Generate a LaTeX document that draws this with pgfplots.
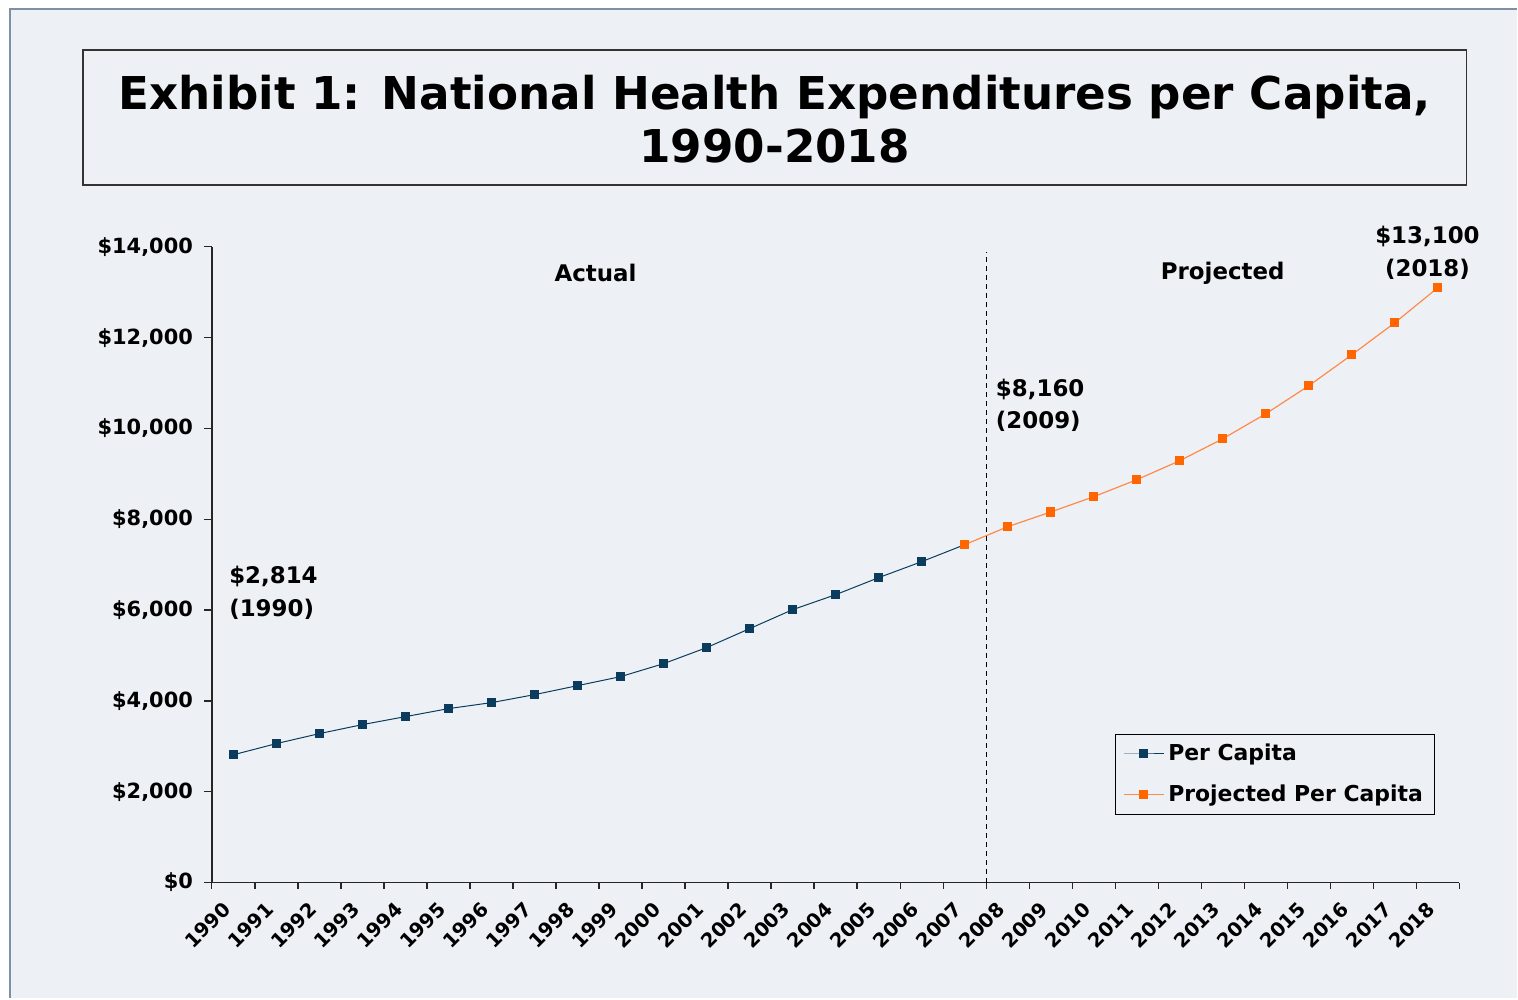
\documentclass[border=0pt]{standalone}
\usepackage{fontspec}
\setmainfont{DejaVu Sans}
\usepackage{pgfplots}
\pgfplotsset{compat=1.18}
\definecolor{bg}{HTML}{EDF1F5}
\definecolor{navy}{HTML}{0B3C5D}
\definecolor{orng}{HTML}{FF6600}
\definecolor{orngline}{HTML}{FF8A4A}
\definecolor{framec}{HTML}{7F8FA6}
\begin{document}
\begin{tikzpicture}[x=0.5bp,y=0.5bp]
\fill[white] (0,0) rectangle (1518,999);
\fill[bg] (10,0) rectangle (1518,990);
\draw[framec, line width=0.8bp] (10,0) -- (10,990) -- (1518,990);
\draw[line width=0.7bp, black!80] (83,814) rectangle (1467,949);
\node[font=\bfseries\fontsize{22.7}{26.5}\selectfont, align=center] at (775,880) {Exhibit 1: National Health Expenditures per Capita,\\1990-2018};
\begin{axis}[
  at={(106bp,58bp)}, anchor=south west,
  scale only axis, width=624bp, height=318bp,
  xmin=-0.5, xmax=28.5, ymin=0, ymax=14000,
  scaled y ticks=false,
  axis x line*=bottom, axis y line*=left,
  axis line style={black!85, line width=0.7bp, -},
  clip=false,
  xtick={0,...,28},
  xticklabels={1990,1991,1992,1993,1994,1995,1996,1997,1998,1999,2000,2001,2002,2003,2004,2005,2006,2007,2008,2009,2010,2011,2012,2013,2014,2015,2016,2017,2018},
  major x tick style={draw=none},
  minor xtick={-0.5,0.5,...,28.5},
  minor x tick style={black!85, line width=0.6bp},
  ytick={0,2000,...,14000},
  yticklabels={{\$0},{\$2,000},{\$4,000},{\$6,000},{\$8,000},{\$10,000},{\$12,000},{\$14,000}},
  major y tick style={black!85, line width=0.6bp},
  tick align=outside,
  major tick length=4bp, minor tick length=3bp,
  xticklabel style={xshift=-6bp, yshift=-3.5bp, rotate=45, anchor=north east, font=\bfseries\fontsize{9.8}{11}\selectfont, inner sep=1bp},
  yticklabel style={font=\bfseries\fontsize{10.5}{12}\selectfont, xshift=-2bp},
  legend style={at={(0.7236,0.2343)}, anchor=north west, draw=black, fill=bg, line width=0.6bp,
    font=\bfseries\fontsize{11}{13}\selectfont, row sep=6.5bp, inner xsep=4bp, inner ysep=3bp},
  legend image code/.code={\draw[mark repeat=2,mark phase=2] plot coordinates {(0bp,0bp) (10bp,0bp) (20bp,0bp)};},
  legend cell align=left,
]
\addplot[navy, line width=0.5bp, mark=square*, mark size=2bp, mark options={solid, fill=navy, draw=navy}] coordinates {
(0,2814) (1,3060) (2,3280) (3,3478) (4,3654) (5,3830) (6,3962) (7,4138) (8,4336) (9,4534)
(10,4820) (11,5173) (12,5591) (13,6009) (14,6339) (15,6714) (16,7066) (17,7440)};
\addlegendentry{Per Capita}
\addplot[orngline, line width=0.6bp, mark=square*, mark size=2bp, mark options={solid, fill=orng, draw=orng}] coordinates {
(17,7440) (18,7836) (19,8160) (20,8497) (21,8871) (22,9289) (23,9773) (24,10323) (25,10940)
(26,11622) (27,12327) (28,13100)};
\addlegendentry{Projected Per Capita}
\draw[black, line width=0.5bp, dash pattern=on 2.5bp off 2bp] (axis cs:17.52,0) -- (axis cs:17.52,13890);
\node[font=\bfseries\fontsize{11.5}{13}\selectfont] at (axis cs:8.42,13427) {Actual};
\node[font=\bfseries\fontsize{11.5}{13}\selectfont] at (axis cs:23.0,13427) {Projected};
\node[font=\bfseries\fontsize{11.5}{13}\selectfont] at (axis cs:27.76,14220) {\$13,100};
\node[font=\bfseries\fontsize{11.5}{13}\selectfont] at (axis cs:27.76,13515) {(2018)};
\node[font=\bfseries\fontsize{11.5}{13}\selectfont, anchor=west, inner sep=0pt] at (axis cs:17.72,10852) {\$8,160};
\node[font=\bfseries\fontsize{11.5}{13}\selectfont, anchor=west, inner sep=0pt] at (axis cs:17.72,10148) {(2009)};
\node[font=\bfseries\fontsize{11.5}{13}\selectfont, anchor=west, inner sep=0pt] at (axis cs:-0.105,6736) {\$2,814};
\node[font=\bfseries\fontsize{11.5}{13}\selectfont, anchor=west, inner sep=0pt] at (axis cs:-0.105,6009) {(1990)};
\end{axis}
\end{tikzpicture}
\end{document}
